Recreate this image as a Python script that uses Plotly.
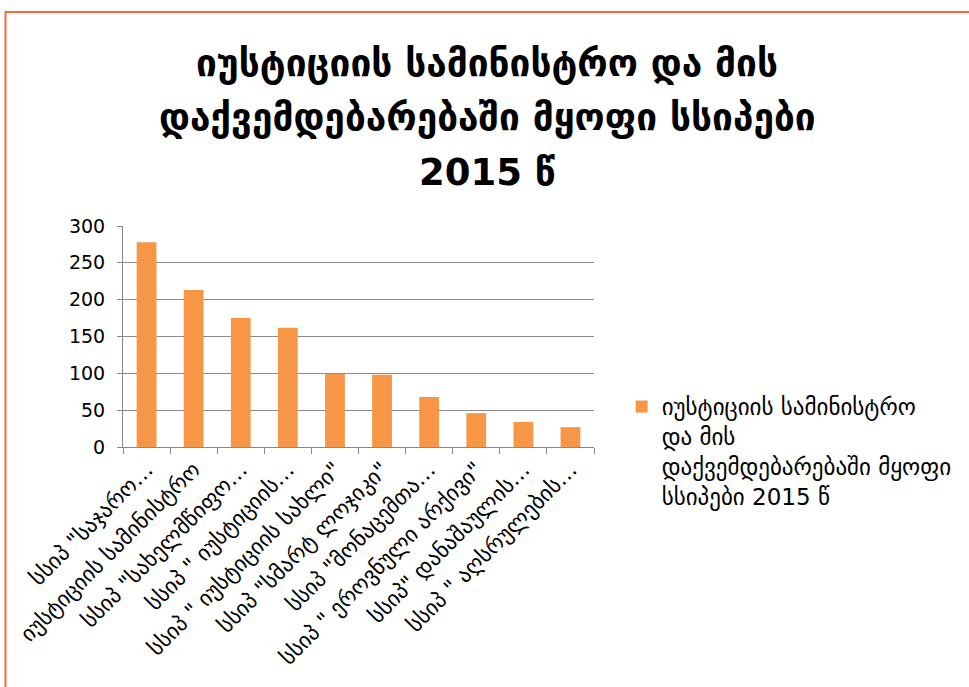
import plotly.graph_objects as go

categories = [
    'სსიპ "საჯარო…',
    'იუსტიციის სამინისტრო',
    'სსიპ "სახელმწიფო…',
    'სსიპ " იუსტიციის…',
    'სსიპ " იუსტიციის სახლი"',
    'სსიპ "სმარტ ლოჯიკი"',
    'სსიპ "მონაცემთა…',
    'სსიპ " ეროვნული არქივი"',
    'სსიპ" დანაშაულის…',
    'სსიპ " აღსრულების…',
]
values = [278, 213, 175, 162, 99, 98, 68, 46, 34, 27]
series_name = "იუსტიციის სამინისტრო<br>და მის<br>დაქვემდებარებაში მყოფი<br>სსიპები 2015 წ"
title_lines = ["იუსტიციის სამინისტრო და მის", "დაქვემდებარებაში მყოფი სსიპები", "2015 წ"]
y_ticks = [0, 50, 100, 150, 200, 250, 300]

FONT = "DejaVu Sans"
W, H = 969, 687
L, R, T, B = 123, W - 600, 226, H - 447
pw, ph = W - L - R, H - T - B

def px_x(p):
    return (p - L) / pw

def px_y(p):
    return (H - B - p) / ph

fig = go.Figure()
fig.add_trace(go.Bar(
    x=categories, y=values, name=series_name,
    marker=dict(color="#F79646", line=dict(width=0)),
    showlegend=True,
))

annotations = []
for line, yc in zip(title_lines, [63, 118, 172]):
    annotations.append(dict(text="<b>" + line + "</b>", xref="paper", yref="paper",
                            x=px_x(492), y=px_y(yc), xanchor="center", yanchor="middle",
                            showarrow=False, font=dict(family=FONT, size=37, color="#000000")))

fig.update_layout(
    width=W, height=H,
    margin=dict(l=L, r=R, t=T, b=B),
    paper_bgcolor="white", plot_bgcolor="white",
    font=dict(family=FONT, color="#000000"),
    bargap=0.58,
    annotations=annotations,
    legend=dict(x=px_x(628), y=px_y(385), xanchor="left", yanchor="top",
                valign="top",
                font=dict(family=FONT, size=23, color="#000000"),
                itemwidth=30, tracegroupgap=0, bgcolor="rgba(0,0,0,0)"),
    xaxis=dict(type="category", tickangle=-45, tickfont=dict(family=FONT, size=22, color="#000000"),
               showline=True, linecolor="#888888", linewidth=1,
               ticks="outside", tickson="boundaries", ticklen=6, tickcolor="#888888",
               showgrid=False, automargin=False),
    yaxis=dict(range=[0, 300], tickvals=y_ticks, tickfont=dict(family=FONT, size=19, color="#000000"),
               showline=True, linecolor="#888888", linewidth=1,
               ticks="outside", ticklen=5, tickcolor="#888888", ticklabelstandoff=8,
               showgrid=True, gridcolor="#8c8c8c", gridwidth=1, zeroline=False,
               automargin=False),
    shapes=[dict(type="rect", xref="paper", yref="paper",
                 x0=px_x(4), x1=px_x(990), y0=px_y(720), y1=px_y(12),
                 line=dict(color="#F26B3A", width=2), fillcolor="rgba(0,0,0,0)", layer="below")],
)

fig.write_html("out.html", config={"displayModeBar": False},
               post_script="document.body.style.margin='0';")
